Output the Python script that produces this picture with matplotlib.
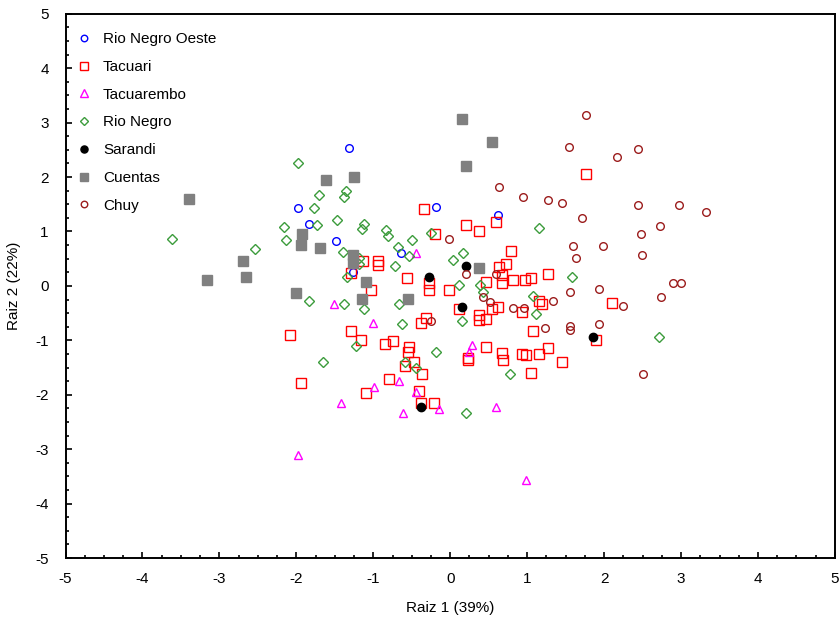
import numpy as np
import matplotlib.pyplot as plt
from matplotlib.ticker import MultipleLocator

plt.rcParams['font.family'] = ['Liberation Sans', 'DejaVu Sans']
plt.rcParams['axes.unicode_minus'] = False

# Discriminant scores per group (Raiz 1, Raiz 2)
rno_x = [-1.31, -1.98, -0.18, -1.84, -1.49, 0.62, -0.64, -1.27]
rno_y = [2.54, 1.43, 1.45, 1.14, 0.83, 1.30, 0.61, 0.26]

tac_x = [-0.34, 0.21, 0.38, 0.60, -0.20, 1.76, 0.79, -0.94, -0.94, -1.13,
         -1.29, -0.56, -0.28, -0.28, -0.01, -1.03, 0.64, 0.72, 0.67, 0.47,
         0.67, 0.82, 0.11, 0.54, 0.62, 0.38, 0.38, 0.46, -0.38, -0.32,
         -1.29, -1.16, -0.85, -0.75, -0.53, -0.55, -0.47, -0.59, 0.46, 0.23,
         0.67, -0.37, -0.80, -1.10, -0.41, -0.38, -0.21, 0.23, 0.69, 1.27,
         0.97, 1.05, 1.16, 1.19, 0.93, 2.10, 1.08, 1.89, 1.27, 0.93,
         0.98, 1.16, 1.45, 1.05, -2.08, -1.94]
tac_y = [1.42, 1.12, 1.01, 1.18, 0.96, 2.06, 0.64, 0.46, 0.39, 0.46,
         0.24, 0.15, 0.05, -0.07, -0.07, -0.07, 0.35, 0.40, 0.20, 0.07,
         0.06, 0.11, -0.42, -0.42, -0.39, -0.53, -0.63, -0.61, -0.68, -0.59,
         -0.83, -0.99, -1.07, -1.01, -1.12, -1.21, -1.40, -1.47, -1.12, -1.32,
         -1.23, -1.62, -1.71, -1.97, -1.93, -2.15, -2.15, -1.36, -1.36, 0.22,
         0.11, 0.15, -0.28, -0.33, -0.48, -0.31, -0.83, -0.99, -1.14, -1.25,
         -1.27, -1.25, -1.40, -1.60, -0.90, -1.78]

tbo_x = [-0.44, -1.51, -1.01, 0.28, 0.25, -0.99, -0.66, -0.45, -1.42, -0.61,
         -0.15, 0.60, -1.98, 0.98]
tbo_y = [0.60, -0.33, -0.68, -1.08, -1.21, -1.85, -1.75, -1.95, -2.15, -2.34,
         -2.26, -2.22, -3.11, -3.57]

rn_x = [-1.98, -1.70, -1.77, -2.16, -1.73, -3.61, -2.14, -1.35, -1.38, -1.47,
        -1.12, -1.15, -0.83, -0.81, -0.50, -0.25, -2.54, -1.83, -1.65, -1.39,
        -1.19, -1.19, -1.34, -0.72, -0.68, -0.53, 0.17, 0.03, 0.12, 0.39,
        0.42, -1.38, -1.12, -0.66, -0.63, 0.15, -1.23, -0.18, -0.59, -0.45,
        0.78, 0.21, 1.16, 1.58, 1.07, 1.12, 2.71]
rn_y = [2.26, 1.67, 1.43, 1.08, 1.12, 0.86, 0.85, 1.75, 1.64, 1.21,
        1.14, 1.05, 1.03, 0.92, 0.85, 0.97, 0.68, -0.28, -1.40, 0.63,
        0.51, 0.40, 0.17, 0.37, 0.72, 0.55, 0.61, 0.48, 0.02, 0.02,
        -0.12, -0.33, -0.43, -0.33, -0.70, -0.65, -1.11, -1.21, -1.39, -1.51,
        -1.62, -2.34, 1.06, 0.17, -0.18, -0.52, -0.93]

sar_x = [0.21, -0.28, 0.15, 1.85, -0.38]
sar_y = [0.37, 0.17, -0.39, -0.94, -2.22]

cue_x = [-3.39, -3.16, -2.69, -2.65, -2.01, -1.93, -1.94, -1.69, -1.62, -1.25,
         0.15, 0.54, 0.21, -1.26, -1.26, -1.10, -1.15, -0.55, 0.37]
cue_y = [1.60, 0.11, 0.46, 0.17, -0.13, 0.96, 0.76, 0.70, 1.95, 2.00,
         3.07, 2.65, 2.21, 0.57, 0.43, 0.07, -0.24, -0.24, 0.33]

chu_x = [1.76, 1.54, 2.44, 2.17, 0.95, 1.27, 1.45, 1.71, 2.44, 2.97,
         3.33, 2.73, 2.48, 0.64, -0.02, 1.60, 1.98, 1.63, 2.49, 1.55,
         1.93, 2.90, 3.00, 2.74, 1.33, 2.24, 0.82, 0.96, 1.23, 1.55,
         1.55, 1.93, 2.50, 0.20, 0.60, 0.42, 0.52, -0.25]
chu_y = [3.14, 2.55, 2.52, 2.37, 1.64, 1.58, 1.52, 1.25, 1.49, 1.49,
         1.36, 1.10, 0.96, 1.82, 0.87, 0.74, 0.74, 0.51, 0.57, -0.11,
         -0.06, 0.06, 0.06, -0.20, -0.28, -0.37, -0.40, -0.40, -0.77, -0.73,
         -0.81, -0.70, -1.62, 0.22, 0.22, -0.20, -0.29, -0.64]

fig = plt.figure(figsize=(8.4, 6.27), dpi=100)
ax = fig.add_axes([0.078, 0.110, 0.916, 0.868])

ax.plot(rno_x, rno_y, 'o', ms=5.5, mfc='none', mec='#0000ff', mew=1, label='Rio Negro Oeste')
ax.plot(tac_x, tac_y, 's', ms=6.5, mfc='none', mec='#ff0000', mew=1, label='Tacuari')
ax.plot(tbo_x, tbo_y, '^', ms=6, mfc='none', mec='#ff00ff', mew=1, label='Tacuarembo')
ax.plot(rn_x, rn_y, 'D', ms=4.8, mfc='none', mec='#3c9c3c', mew=1, label='Rio Negro')
ax.plot(sar_x, sar_y, 'o', ms=6, mfc='black', mec='black', label='Sarandi')
ax.plot(cue_x, cue_y, 's', ms=6.5, mfc='#808080', mec='#808080', label='Cuentas')
ax.plot(chu_x, chu_y, 'o', ms=5.5, mfc='none', mec='#9b1c1c', mew=1, label='Chuy')

ax.set_xlim(-5, 5)
ax.set_ylim(-5, 5)
ax.xaxis.set_major_locator(MultipleLocator(1))
ax.yaxis.set_major_locator(MultipleLocator(1))
ax.xaxis.set_minor_locator(MultipleLocator(0.25))
ax.yaxis.set_minor_locator(MultipleLocator(0.25))
ax.tick_params(which='both', direction='in', labelsize=11, width=1.2)
ax.tick_params(which='major', length=4)
ax.tick_params(which='minor', length=2.5)
ax.tick_params(axis='x', pad=10)
ax.tick_params(axis='y', pad=12)
for s in ax.spines.values():
    s.set_linewidth(1.4)

ax.set_xlabel('Raiz 1 (39%)', fontsize=11, labelpad=11)
ax.set_ylabel('Raiz 2 (22%)', fontsize=11, labelpad=10)

ax.legend(loc='upper left', bbox_to_anchor=(-0.009, 1.0), frameon=False,
          fontsize=11, markerscale=0.85, handlelength=0.9, handletextpad=0.8,
          labelspacing=0.9, borderaxespad=0.6, borderpad=0.6)

fig.savefig('out.png', dpi=100)
